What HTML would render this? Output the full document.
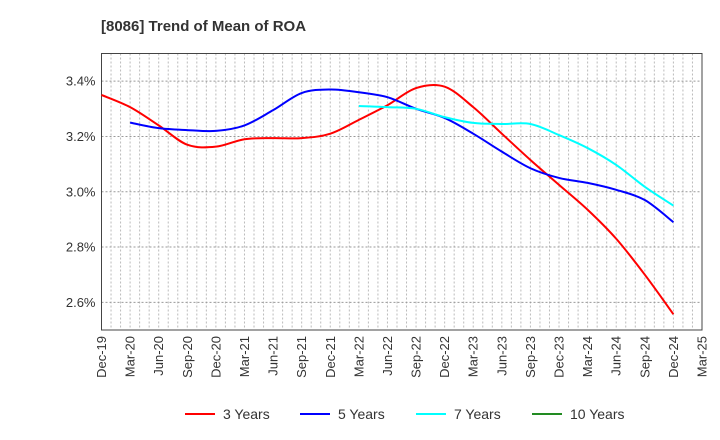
<!DOCTYPE html>
<html><head><meta charset="utf-8"><style>
body{margin:0;background:#fff;}
svg{display:block;font-family:"Liberation Sans",Arial,sans-serif;}
</style></head><body>
<svg id="chart" width="720" height="440">
<text x="101" y="31" font-size="15" font-weight="bold" fill="#333">[8086]  Trend of Mean of ROA</text>
<g id="grid"></g>
<g id="axes"></g>
<g id="series"></g>
<g id="legend"></g>
</svg>
<script>
const quarters=["Dec-19","Mar-20","Jun-20","Sep-20","Dec-20","Mar-21","Jun-21","Sep-21","Dec-21","Mar-22","Jun-22","Sep-22","Dec-22","Mar-23","Jun-23","Sep-23","Dec-23","Mar-24","Jun-24","Sep-24","Dec-24","Mar-25"];
const yTicks=[2.6,2.8,3.0,3.2,3.4];
const yTickLabels=["2.6%","2.8%","3.0%","3.2%","3.4%"];
const seriesNames=["3 Years","5 Years","7 Years","10 Years"];
const seriesColors=["#ff0000","#0000ff","#00ffff","#228b22"];
const roa3=[3.35,3.306,3.24,3.17,3.163,3.19,3.194,3.194,3.21,3.26,3.313,3.375,3.38,3.306,3.21,3.115,3.025,2.935,2.83,2.70,2.557];
const roa5=[null,3.25,3.23,3.223,3.22,3.24,3.295,3.357,3.37,3.36,3.342,3.30,3.267,3.21,3.145,3.085,3.05,3.032,3.007,2.97,2.89];
const roa7=[null,null,null,null,null,null,null,null,null,3.31,3.306,3.30,3.27,3.249,3.245,3.245,3.205,3.158,3.097,3.018,2.95];
const roa10=[];
const NS="http://www.w3.org/2000/svg";
const L=101.5,R=702,T=53.5,B=330,yMin=2.5,yMax=3.5;
const xs=i=>L+i*(R-L)/(quarters.length-1);
const ys=v=>B-(v-yMin)/(yMax-yMin)*(B-T);
function mk(tag,attrs,parent){const e=document.createElementNS(NS,tag);for(const k in attrs)e.setAttribute(k,attrs[k]);parent.appendChild(e);return e;}
const grid=document.getElementById('grid'),axes=document.getElementById('axes'),ser=document.getElementById('series'),leg=document.getElementById('legend');
for(let m=1;m<(quarters.length-1)*3;m++){const x=L+m*(R-L)/((quarters.length-1)*3);
 const g=mk('line',{x1:x,x2:x,y1:T,y2:B,stroke:'#bbb','stroke-dasharray':'2,2','stroke-width':1},grid);
 
 }
yTicks.forEach((v,i)=>{const y=ys(v);
 const g=mk('line',{x1:L,x2:R,y1:y,y2:y,stroke:'#999','stroke-dasharray':'2,2','stroke-width':1},grid);
 
 
 const t=mk('text',{x:L-6,y:y+4.5,'text-anchor':'end','font-size':13,fill:'#333'},axes);t.textContent=yTickLabels[i];
 
 });
const frame=mk('rect',{x:L,y:T,width:R-L,height:B-T,fill:'none',stroke:'#444','stroke-width':1},axes);


quarters.forEach((q,i)=>{const x=xs(i);
 const t=mk('text',{transform:`translate(${x+4.5},336) rotate(-90)`,'text-anchor':'end','font-size':13,fill:'#333'},axes);t.textContent=q;
 
 });
function pathFor(arr){const p=[];arr.forEach((v,i)=>{if(v!=null)p.push([xs(i),ys(v)]);});if(p.length<2)return '';
 let d=`M${p[0][0]},${p[0][1]}`;
 for(let i=0;i<p.length-1;i++){const p0=p[i-1]||p[i],p1=p[i],p2=p[i+1],p3=p[i+2]||p2;
  const c1=[p1[0]+(p2[0]-p0[0])/6,p1[1]+(p2[1]-p0[1])/6],c2=[p2[0]-(p3[0]-p1[0])/6,p2[1]-(p3[1]-p1[1])/6];
  d+=` C${c1[0]},${c1[1]} ${c2[0]},${c2[1]} ${p2[0]},${p2[1]}`;}
 return d;}
[roa3,roa5,roa7,roa10].forEach((arr,k)=>{const d=pathFor(arr);if(!d)return;
 const p=mk('path',{d:d,fill:'none',stroke:seriesColors[k],'stroke-width':2},ser);
 
 });
const legX=[185,300,416,532];
seriesNames.forEach((n,k)=>{
 const g=mk('g',{},leg);
 
 
 mk('line',{x1:legX[k],x2:legX[k]+30,y1:414,y2:414,stroke:seriesColors[k],'stroke-width':2},g);
 const t=mk('text',{x:legX[k]+38,y:419,'font-size':14,fill:'#333'},g);t.textContent=n;});
</script>
</body></html>
